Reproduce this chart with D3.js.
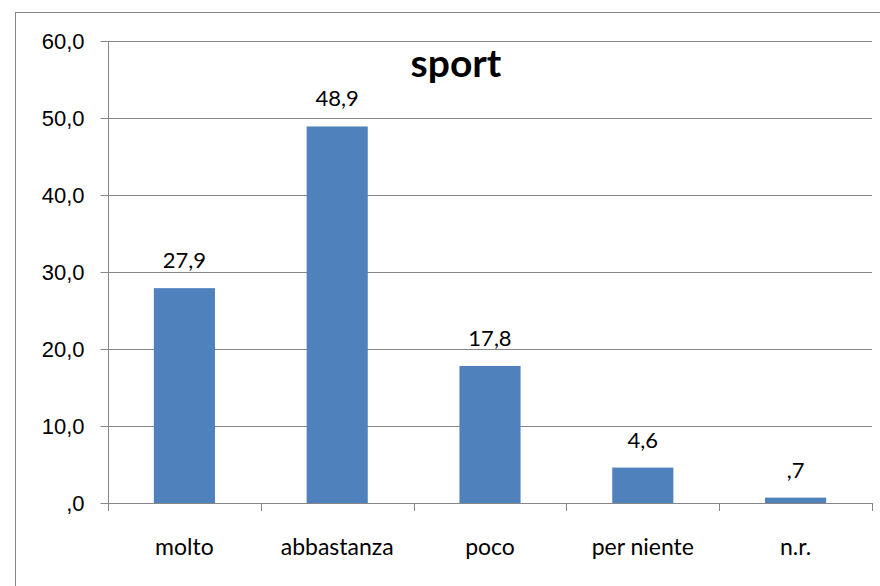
<!DOCTYPE html>
<html>
<head>
<meta charset="utf-8">
<script src="https://cdn.jsdelivr.net/npm/d3@7"></script>
<style>
	body { margin: 0; background: #fff; }
	svg { display: block; font-family: Lato, "Open Sans", sans-serif; }
</style>
</head>
<body>
<div id="container"></div>
<script>
var categories = ["molto", "abbastanza", "poco", "per niente", "n.r."];
var values = [27.9, 48.9, 17.8, 4.6, 0.7];
var yTicks = [0, 10, 20, 30, 40, 50, 60];
var title = "sport";

var width = 880,
	height = 586,
	plotLeft = 108,
	plotRight = 872,
	plotTop = 41,
	plotBottom = 503;

// etichette in stile excel: ",0" invece di "0,0"
function fmt(v) {
	var s = v.toFixed(1).replace(".", ",");
	if (s.indexOf("0,") === 0) s = s.slice(1);
	return s;
}

var yScale = d3.scaleLinear()
	.domain([0, 60])
	.range([plotBottom, plotTop]);

var xScale = d3.scaleBand()
	.domain(categories)
	.range([plotLeft, plotRight])
	.paddingInner(0.6)
	.paddingOuter(0.3);

var svg = d3.select("#container")
	.append("svg")
		.attr("width", width)
		.attr("height", height);

// cornice esterna
svg.append("rect")
	.attr("x", 15.5)
	.attr("y", 12.5)
	.attr("width", 880)
	.attr("height", 600)
	.style("fill", "none")
	.style("stroke", "#868686");

// griglia
svg.append("g")
	.selectAll("line")
	.data(yTicks.slice(1))
	.enter().append("line")
		.attr("x1", plotLeft)
		.attr("x2", plotRight)
		.attr("y1", function(d){ return Math.round(yScale(d)) + 0.5 })
		.attr("y2", function(d){ return Math.round(yScale(d)) + 0.5 })
		.style("stroke", "#868686");

// asse y
var yAxis = svg.append("g")
	.attr("transform", "translate(" + (plotLeft + 0.5) + ",0.5)")
	.call(d3.axisLeft(yScale).tickValues(yTicks).tickSize(8).tickPadding(16).tickFormat(fmt));
yAxis.select(".domain").attr("d", "M0," + plotTop + "V" + plotBottom).style("stroke", "#868686");
yAxis.selectAll(".tick line").style("stroke", "#868686");
yAxis.selectAll(".tick text")
	.style("font-size", "22px")
	.style("fill", "#000");
yAxis.selectAll(".tick").attr("transform", function(d){ return "translate(0," + Math.round(yScale(d)) + ")" });

// barre
svg.append("g")
	.selectAll("rect")
	.data(values)
	.enter().append("rect")
		.style("fill", "#4f81bd")
		.attr("x", function(d, i){ return xScale(categories[i]) })
		.attr("width", xScale.bandwidth())
		.attr("y", function(d){ return yScale(d) })
		.attr("height", function(d){ return plotBottom - yScale(d) });

// asse x
var xBounds = d3.range(0, categories.length + 1).map(function(i){ return plotLeft + i * (plotRight - plotLeft) / categories.length });
svg.append("line")
	.attr("x1", plotLeft).attr("x2", plotRight)
	.attr("y1", plotBottom + 0.5).attr("y2", plotBottom + 0.5)
	.style("stroke", "#868686");
svg.append("g")
	.selectAll("line")
	.data(xBounds)
	.enter().append("line")
		.attr("x1", function(d){ return Math.round(d) + 0.5 })
		.attr("x2", function(d){ return Math.round(d) + 0.5 })
		.attr("y1", plotBottom)
		.attr("y2", plotBottom + 8)
		.style("stroke", "#868686");

svg.append("g")
	.selectAll("text")
	.data(categories)
	.enter().append("text")
		.attr("x", function(d){ return xScale(d) + xScale.bandwidth() / 2 })
		.attr("y", 555)
		.attr("text-anchor", "middle")
		.style("font-size", "23px")
		.text(function(d){ return d });

// etichette valori
svg.append("g")
	.selectAll("text")
	.data(values)
	.enter().append("text")
		.attr("x", function(d, i){ return xScale(categories[i]) + xScale.bandwidth() / 2 })
		.attr("y", function(d){ return yScale(d) - 20 })
		.attr("text-anchor", "middle")
		.style("font-size", "22px")
		.text(function(d){ return fmt(d) });

// titolo
svg.append("text")
	.attr("x", 456)
	.attr("y", 77)
	.attr("text-anchor", "middle")
	.style("font-size", "39px")
	.style("font-weight", "bold")
	.text(title);
</script>
</body>
</html>
